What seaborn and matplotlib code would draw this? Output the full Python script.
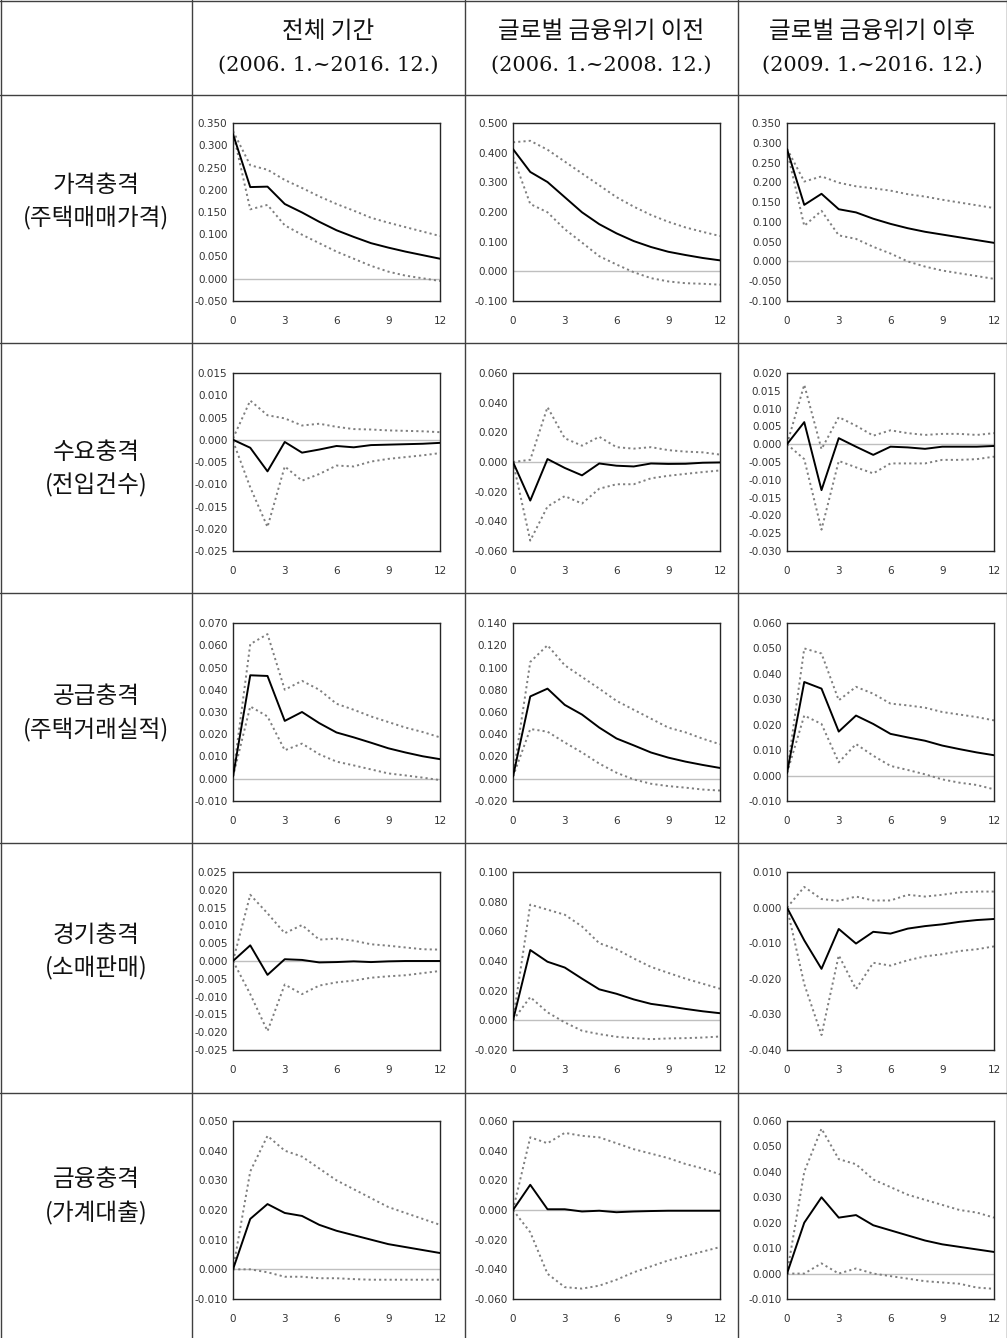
import numpy as np
import matplotlib
matplotlib.use('Agg')
import matplotlib.pyplot as plt
from matplotlib.lines import Line2D
from matplotlib.ticker import FuncFormatter
import seaborn as sns

W, H = 1007, 1338

periods = ['전체 기간', '글로벌 금융위기 이전', '글로벌 금융위기 이후']
period_ranges = ['(2006. 1.~2016. 12.)', '(2006. 1.~2008. 12.)', '(2009. 1.~2016. 12.)']
shocks = ['가격충격', '수요충격', '공급충격', '경기충격', '금융충격']
shock_vars = ['(주택매매가격)', '(전입건수)', '(주택거래실적)', '(소매판매)', '(가계대출)']
horizon = list(range(13))
x_ticks = [0, 3, 6, 9, 12]

# y axis (min, max, step) for each row, one per period column
y_axes = [
    [(-0.05, 0.35, 0.05), (-0.1, 0.5, 0.1), (-0.1, 0.35, 0.05)],
    [(-0.025, 0.015, 0.005), (-0.06, 0.06, 0.02), (-0.03, 0.02, 0.005)],
    [(-0.01, 0.07, 0.01), (-0.02, 0.14, 0.02), (-0.01, 0.06, 0.01)],
    [(-0.025, 0.025, 0.005), (-0.02, 0.10, 0.02), (-0.04, 0.01, 0.01)],
    [(-0.01, 0.05, 0.01), (-0.06, 0.06, 0.02), (-0.01, 0.06, 0.01)],
]

# impulse responses: [all, pre-crisis, post-crisis]
price_mid = [
    [0.325, 0.206, 0.207, 0.168, 0.149, 0.128, 0.109, 0.094, 0.080, 0.070, 0.061, 0.053, 0.045],
    [0.412, 0.335, 0.301, 0.250, 0.199, 0.159, 0.128, 0.102, 0.082, 0.066, 0.055, 0.045, 0.037],
    [0.284, 0.143, 0.171, 0.132, 0.124, 0.108, 0.095, 0.084, 0.075, 0.068, 0.061, 0.054, 0.047],
]
price_hi = [
    [0.332, 0.255, 0.245, 0.222, 0.204, 0.185, 0.168, 0.153, 0.137, 0.126, 0.116, 0.106, 0.096],
    [0.435, 0.440, 0.410, 0.370, 0.330, 0.290, 0.250, 0.218, 0.190, 0.167, 0.148, 0.133, 0.119],
    [0.285, 0.202, 0.215, 0.199, 0.190, 0.185, 0.179, 0.170, 0.164, 0.156, 0.149, 0.142, 0.135],
]
price_lo = [
    [0.329, 0.156, 0.166, 0.120, 0.099, 0.080, 0.061, 0.045, 0.029, 0.016, 0.007, 0.001, -0.005],
    [0.386, 0.227, 0.199, 0.142, 0.097, 0.051, 0.023, -0.003, -0.023, -0.034, -0.040, -0.042, -0.045],
    [0.280, 0.090, 0.128, 0.066, 0.057, 0.037, 0.020, 0.000, -0.013, -0.023, -0.030, -0.037, -0.044],
]

demand_mid = [
    [0.0, -0.0018, -0.0071, -0.0005, -0.0029, -0.0022, -0.0014, -0.0017, -0.0012, -0.0011, -0.0010, -0.0009, -0.0007],
    [0.0, -0.026, 0.002, -0.004, -0.009, -0.001, -0.0025, -0.003, -0.001, -0.0013, -0.0012, -0.0005, -0.0003],
    [0.0, 0.0062, -0.0129, 0.0017, -0.0007, -0.0030, -0.0007, -0.0009, -0.0013, -0.0007, -0.0007, -0.0007, -0.0005],
]
demand_hi = [
    [0.0003, 0.0088, 0.0055, 0.0048, 0.0032, 0.0036, 0.0029, 0.0024, 0.0023, 0.0021, 0.0020, 0.0019, 0.0017],
    [0.0, 0.0015, 0.037, 0.016, 0.011, 0.017, 0.010, 0.009, 0.010, 0.008, 0.007, 0.0065, 0.005],
    [0.0, 0.0167, -0.0014, 0.0076, 0.0052, 0.0024, 0.0039, 0.0031, 0.0026, 0.0029, 0.0029, 0.0026, 0.0031],
]
demand_lo = [
    [-0.0003, -0.0107, -0.0196, -0.0060, -0.0092, -0.0077, -0.0058, -0.0060, -0.0049, -0.0043, -0.0039, -0.0035, -0.0030],
    [0.0, -0.053, -0.030, -0.023, -0.028, -0.018, -0.015, -0.015, -0.011, -0.0093, -0.008, -0.0068, -0.0057],
    [0.0, -0.0042, -0.0240, -0.0047, -0.0065, -0.0082, -0.0054, -0.0054, -0.0054, -0.0044, -0.0044, -0.0042, -0.0035],
]

supply_mid = [
    [0.001, 0.0465, 0.0462, 0.026, 0.030, 0.025, 0.0208, 0.0186, 0.0162, 0.0137, 0.0118, 0.0101, 0.0088],
    [0.002, 0.074, 0.081, 0.0664, 0.0577, 0.046, 0.0362, 0.030, 0.0236, 0.019, 0.0154, 0.0124, 0.0097],
    [0.001, 0.0368, 0.0342, 0.0173, 0.0236, 0.0203, 0.0164, 0.015, 0.0137, 0.0118, 0.0104, 0.0091, 0.008],
]
supply_hi = [
    [0.001, 0.0605, 0.065, 0.040, 0.044, 0.040, 0.0337, 0.031, 0.028, 0.0255, 0.023, 0.021, 0.0186],
    [0.002, 0.105, 0.120, 0.102, 0.0915, 0.081, 0.070, 0.062, 0.054, 0.046, 0.0417, 0.036, 0.031],
    [0.001, 0.050, 0.048, 0.0296, 0.0349, 0.0322, 0.0283, 0.0276, 0.0267, 0.025, 0.024, 0.023, 0.0217],
]
supply_lo = [
    [0.001, 0.0325, 0.028, 0.0128, 0.0158, 0.011, 0.0077, 0.006, 0.0042, 0.0024, 0.0015, 0.0005, -0.0006],
    [0.002, 0.0447, 0.0423, 0.0326, 0.0236, 0.0136, 0.0054, -0.0006, -0.0045, -0.0066, -0.008, -0.0097, -0.0106],
    [0.001, 0.0236, 0.0203, 0.0052, 0.0124, 0.0078, 0.0038, 0.0022, 0.0005, -0.0015, -0.0028, -0.0037, -0.0054],
]

business_mid = [
    [0.0, 0.0044, -0.0039, 0.0005, 0.0003, -0.0004, -0.0003, -0.0001, -0.0003, -0.0001, 0.0, 0.0, 0.0],
    [0.0, 0.0474, 0.0395, 0.0356, 0.0281, 0.0209, 0.0179, 0.0141, 0.0111, 0.0095, 0.0077, 0.0061, 0.0048],
    [0.0, -0.0092, -0.0172, -0.006, -0.0101, -0.0068, -0.0073, -0.0059, -0.0052, -0.0047, -0.004, -0.0035, -0.0032],
]
business_hi = [
    [0.0, 0.0186, 0.0134, 0.0078, 0.0101, 0.006, 0.0063, 0.0057, 0.0047, 0.0043, 0.0038, 0.0033, 0.0032],
    [0.0, 0.078, 0.0746, 0.0712, 0.0633, 0.052, 0.0479, 0.0417, 0.036, 0.032, 0.0281, 0.0247, 0.0213],
    [0.0, 0.0058, 0.0024, 0.0019, 0.0031, 0.002, 0.002, 0.0036, 0.0031, 0.0036, 0.0043, 0.0045, 0.0045],
]
business_lo = [
    [0.0, -0.0093, -0.0197, -0.0066, -0.0093, -0.0069, -0.006, -0.0055, -0.0047, -0.0043, -0.004, -0.0034, -0.0028],
    [0.0, 0.0157, 0.0054, -0.0014, -0.007, -0.0093, -0.0111, -0.012, -0.0127, -0.0122, -0.012, -0.0116, -0.0109],
    [0.0, -0.0215, -0.0358, -0.0134, -0.0229, -0.0155, -0.0163, -0.0148, -0.0137, -0.0131, -0.0122, -0.0117, -0.0109],
]

finance_mid = [
    [0.0, 0.017, 0.022, 0.019, 0.018, 0.015, 0.013, 0.0115, 0.010, 0.0085, 0.0075, 0.0065, 0.0055],
    [0.0, 0.017, 0.0005, 0.0005, -0.001, -0.0005, -0.0015, -0.001, -0.0007, -0.0005, -0.0005, -0.0005, -0.0005],
    [0.0, 0.020, 0.030, 0.022, 0.023, 0.019, 0.017, 0.015, 0.013, 0.0115, 0.0105, 0.0095, 0.0085],
]
finance_hi = [
    [0.0, 0.033, 0.045, 0.040, 0.038, 0.034, 0.030, 0.027, 0.024, 0.021, 0.019, 0.017, 0.015],
    [0.0, 0.049, 0.045, 0.052, 0.050, 0.049, 0.045, 0.041, 0.038, 0.035, 0.031, 0.028, 0.024],
    [0.0, 0.040, 0.057, 0.045, 0.043, 0.037, 0.034, 0.031, 0.029, 0.027, 0.025, 0.024, 0.022],
]
finance_lo = [
    [0.0, 0.0, -0.001, -0.0025, -0.0025, -0.003, -0.003, -0.0033, -0.0035, -0.0035, -0.0035, -0.0035, -0.0035],
    [0.0, -0.015, -0.043, -0.052, -0.053, -0.051, -0.047, -0.042, -0.038, -0.034, -0.031, -0.028, -0.025],
    [0.0, 0.0, 0.004, 0.0, 0.002, 0.0, -0.001, -0.002, -0.003, -0.0035, -0.004, -0.0055, -0.006],
]

responses = [
    (price_mid, price_lo, price_hi),
    (demand_mid, demand_lo, demand_hi),
    (supply_mid, supply_lo, supply_hi),
    (business_mid, business_lo, business_hi),
    (finance_mid, finance_lo, finance_hi),
]

sns.set_style('white')
plt.rcParams['font.family'] = ['Noto Sans CJK KR', 'DejaVu Sans']

fig = plt.figure(figsize=(W / 100, H / 100), dpi=100)

# table layout (pixels)
col_lines = [192, 465, 738]
row_lines = [95, 343, 593, 843, 1093]
ax_left = [233, 513, 787]
ax_top = [123, 373, 623, 872, 1121]
ax_w, ax_h = 207, 178
label_y = [201, 468, 713, 951, 1196]

line_kw = dict(color='#404040', linewidth=1.0)
for x in col_lines:
    fig.add_artist(Line2D([x / W, x / W], [0, 1], **line_kw))
for y in row_lines:
    fig.add_artist(Line2D([0, 1], [1 - y / H, 1 - y / H], **line_kw))
fig.add_artist(Line2D([0.5 / W, 0.5 / W], [0, 1], **line_kw))
fig.add_artist(Line2D([1 - 0.5 / W, 1 - 0.5 / W], [0, 1], **line_kw))
fig.add_artist(Line2D([0, 1], [1 - 0.5 / H, 1 - 0.5 / H], **line_kw))

# header
col_bounds = [0] + col_lines + [W]
for c in range(3):
    cx = (col_bounds[c + 1] + col_bounds[c + 2]) / 2 / W
    fig.text(cx, 1 - 31 / H, periods[c], ha='center', va='center', fontsize=17, color='#111111')
    fig.text(cx, 1 - 65 / H, period_ranges[c], ha='center', va='center', fontsize=15,
             color='#111111', family=['DejaVu Serif'])

# row labels
for r in range(5):
    cy = 1 - label_y[r] / H
    fig.text(96 / W, cy + 16 / H, shocks[r], ha='center', va='center', fontsize=17, color='#111111')
    fig.text(96 / W, cy - 17 / H, shock_vars[r], ha='center', va='center', fontsize=17, color='#111111')


def fmt(v, pos):
    return '0.000' if abs(v) < 1e-9 else f'{v:.3f}'


for r in range(5):
    mid, lo, hi = responses[r]
    for c in range(3):
        ax = fig.add_axes([ax_left[c] / W, 1 - (ax_top[r] + ax_h) / H, ax_w / W, ax_h / H])
        ax.axhline(0, color='#bfbfbf', linewidth=1.0, zorder=1)
        for band in (lo[c], hi[c]):
            sns.lineplot(x=horizon, y=band, ax=ax, color='#7f7f7f', linewidth=1.4,
                         linestyle=(0, (1.1, 1.6)), zorder=2)
        sns.lineplot(x=horizon, y=mid[c], ax=ax, color='black', linewidth=1.4, zorder=3)

        ymin, ymax, step = y_axes[r][c]
        ax.set_xlim(0, 12)
        ax.set_ylim(ymin, ymax)
        ax.set_xticks(x_ticks)
        ax.set_yticks(np.round(np.arange(ymin, ymax + step / 2, step), 4))
        ax.yaxis.set_major_formatter(FuncFormatter(fmt))
        ax.tick_params(axis='both', length=0, labelsize=7.5, labelcolor='#333333')
        ax.tick_params(axis='y', pad=4)
        ax.tick_params(axis='x', pad=11)
        for lab in ax.get_xticklabels() + ax.get_yticklabels():
            lab.set_fontfamily('DejaVu Sans')
        for s in ax.spines.values():
            s.set_color('#262626')
            s.set_linewidth(1.0)
        ax.set_xlabel('')
        ax.set_ylabel('')
        ax.grid(False)

fig.savefig('out.png', dpi=100)
